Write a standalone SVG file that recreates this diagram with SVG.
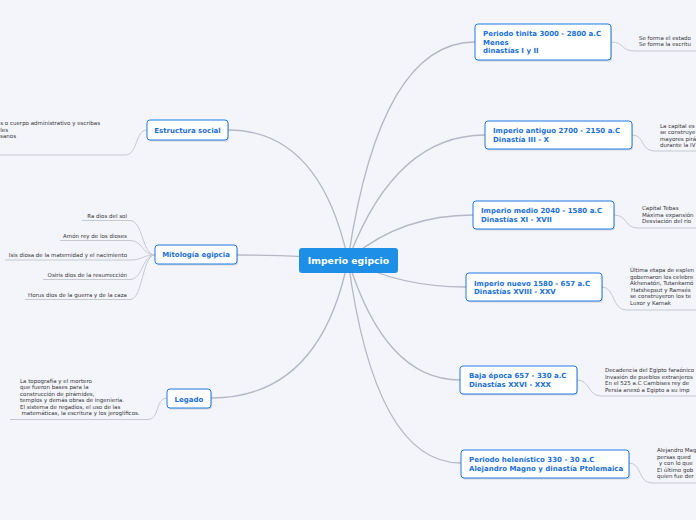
<svg xmlns="http://www.w3.org/2000/svg" width="696" height="520" viewBox="0 0 696 520">
<style>
.bg{fill:#f3f5fb}
.c{fill:none;stroke:#b5b8c3;stroke-width:1.3}
.d{fill:none;stroke:#c6c9d2;stroke-width:1}
.nb{fill:#ffffff;stroke:#1f7ae0;stroke-width:1}
.sh{fill:#000;opacity:0.12}
.nt{font-family:"DejaVu Sans",Verdana,sans-serif;font-weight:bold;font-size:7px;fill:#1a6fd8}
.ct{font-family:"DejaVu Sans",Verdana,sans-serif;font-weight:bold;font-size:9.3px;fill:#ffffff}
.dt{font-family:"DejaVu Sans",Verdana,sans-serif;font-size:5.5px;fill:#333333}
</style>
<rect class="bg" x="0" y="0" width="696" height="520"/>
<g id="connectors">
<path class="c" d="M348,260 Q380,42 475,42"/>
<path class="c" d="M348,260 Q395,135 485,135"/>
<path class="c" d="M348,260 Q400,215 473,215"/>
<path class="c" d="M348,260 Q400,287 466,287"/>
<path class="c" d="M348,260 Q385,380 460,380"/>
<path class="c" d="M348,260 Q375,463 461,463"/>
<path class="c" d="M348,260 Q320,130 228,130"/>
<path class="c" d="M348,260 Q300,255 237,255"/>
<path class="c" d="M348,260 Q320,398 211,398"/>
<path class="d" d="M611,42 C625,42 620,51 635,51 H700"/>
<path class="d" d="M632,135 C645,135 640,151 655,151 H700"/>
<path class="d" d="M614,215 C628,215 624,228 638,228 H700"/>
<path class="d" d="M602,287 C615,287 612,310 626,310 H700"/>
<path class="d" d="M577,380 C590,380 588,396 601,396 H700"/>
<path class="d" d="M629,463 C642,463 638,483 652,483 H700"/>
<path class="d" d="M147,130 C135,130 138,155 125,155 H-5"/>
<path class="d" d="M82,220.5 H130 C143,220.5 142,255 155,255"/>
<path class="d" d="M60,240.5 H130 C143,240.5 142,255 155,255"/>
<path class="d" d="M5,260 H130 C143,260 142,255 155,255"/>
<path class="d" d="M43,279.5 H130 C143,279.5 142,255 155,255"/>
<path class="d" d="M25,299.5 H130 C143,299.5 142,255 155,255"/>
<path class="d" d="M10,419.5 H148 C160,419.5 155,398 167,398"/>
</g>
<g id="center">
<rect x="299" y="248" width="99" height="25" rx="3" fill="#1e8fe6"/>
<text class="ct" x="348.5" y="264" text-anchor="middle">Imperio egipcio</text>
</g>
<g id="n-tinita">
<rect class="sh" x="476" y="25.5" width="136" height="36" rx="3"/>
<rect class="nb" x="475" y="24" width="136" height="36" rx="3"/>
<text class="nt" x="483" y="36">Periodo tinita 3000 - 2800 a.C</text>
<text class="nt" x="483" y="44.5">Menes</text>
<text class="nt" x="483" y="53">dinastías I y II</text>
</g>
<g id="d-tinita">
<text class="dt" x="639" y="39.5">Se forma el estado</text>
<text class="dt" x="639" y="46">Se forma la escritu</text>
</g>
<g id="n-antiguo">
<rect class="sh" x="486" y="122.5" width="147" height="28" rx="3"/>
<rect class="nb" x="485" y="121" width="147" height="28" rx="3"/>
<text class="nt" x="493" y="133">Imperio antiguo 2700 - 2150 a.C</text>
<text class="nt" x="493" y="142">Dinastía III - X</text>
</g>
<g id="d-antiguo">
<text class="dt" x="660" y="127.5">La capital es</text>
<text class="dt" x="660" y="134">se construye</text>
<text class="dt" x="660" y="140.5">mayores pirá</text>
<text class="dt" x="660" y="147">durante la IV</text>
</g>
<g id="n-medio">
<rect class="sh" x="474" y="202.5" width="141" height="28" rx="3"/>
<rect class="nb" x="473" y="201" width="141" height="28" rx="3"/>
<text class="nt" x="481" y="213">Imperio medio 2040 - 1580 a.C</text>
<text class="nt" x="481" y="222">Dinastías XI - XVII</text>
</g>
<g id="d-medio">
<text class="dt" x="642" y="210">Capital Tebas</text>
<text class="dt" x="642" y="216.5">Máxima expansión</text>
<text class="dt" x="642" y="223">Desviación del río</text>
</g>
<g id="n-nuevo">
<rect class="sh" x="467" y="274.5" width="136" height="28" rx="3"/>
<rect class="nb" x="466" y="273" width="136" height="28" rx="3"/>
<text class="nt" x="474" y="285.5">Imperio nuevo 1580 - 657 a.C</text>
<text class="nt" x="474" y="294">Dinastías XVIII - XXV</text>
</g>
<g id="d-nuevo">
<text class="dt" x="630" y="272">Última etapa de esplen</text>
<text class="dt" x="630" y="278.5">gobernaron los celebre</text>
<text class="dt" x="630" y="285">Akhenatón, Tutankamó</text>
<text class="dt" x="631" y="291.5">Hatshepsut y Ramsés</text>
<text class="dt" x="630" y="298">se construyeron los te</text>
<text class="dt" x="630" y="304.5">Luxor y Karnak</text>
</g>
<g id="n-baja">
<rect class="sh" x="461" y="367.5" width="117" height="28" rx="3"/>
<rect class="nb" x="460" y="366" width="117" height="28" rx="3"/>
<text class="nt" x="469" y="378">Baja época 657 - 330 a.C</text>
<text class="nt" x="469" y="387">Dinastías XXVI - XXX</text>
</g>
<g id="d-baja">
<text class="dt" x="605" y="372">Decadencia del Egipto faraónico</text>
<text class="dt" x="605" y="378.5">Invasión de pueblos extranjeros</text>
<text class="dt" x="605" y="385">En el 525 a.C Cambises rey de</text>
<text class="dt" x="605" y="391.5">Persia anexó a Egipto a su imp</text>
</g>
<g id="n-helen">
<rect class="sh" x="462" y="451.5" width="168" height="28" rx="3"/>
<rect class="nb" x="461" y="450" width="168" height="28" rx="3"/>
<text class="nt" x="469" y="461.5">Periodo helenístico 330 - 30 a.C</text>
<text class="nt" x="469" y="470.5">Alejandro Magno y dinastía Ptolemaica</text>
</g>
<g id="d-helen">
<text class="dt" x="657" y="452">Alejandro Mag</text>
<text class="dt" x="657" y="458.5">persas qued</text>
<text class="dt" x="659" y="465">y con lo que</text>
<text class="dt" x="657" y="471.5">El último gob</text>
<text class="dt" x="657" y="478">quien fue der</text>
</g>
<g id="n-estructura">
<rect class="sh" x="148" y="121.5" width="81" height="20" rx="3"/>
<rect class="nb" x="147" y="120" width="81" height="20" rx="3"/>
<text class="nt" x="187.5" y="133" text-anchor="middle">Estructura social</text>
</g>
<g id="d-estructura">
<text class="dt" x="100" y="125" text-anchor="end">s o cuerpo administrativo y escribas</text>
<text class="dt" x="8" y="131.5" text-anchor="end">les</text>
<text class="dt" x="16" y="138" text-anchor="end">sanos</text>
</g>
<g id="n-mitologia">
<rect class="sh" x="156" y="246.5" width="82" height="19" rx="3"/>
<rect class="nb" x="155" y="245" width="82" height="19" rx="3"/>
<text class="nt" x="196" y="257" text-anchor="middle">Mitología egipcia</text>
</g>
<g id="d-mitologia">
<text class="dt" x="127" y="218" text-anchor="end">Ra dios del sol</text>
<text class="dt" x="127" y="237.5" text-anchor="end">Amón rey de los dioses</text>
<text class="dt" x="127" y="257" text-anchor="end">Isis diosa de la maternidad y el nacimiento</text>
<text class="dt" x="127" y="276.5" text-anchor="end">Osiris dios de la resurrección</text>
<text class="dt" x="127" y="296.5" text-anchor="end">Horus dios de la guerra y de la caza</text>
</g>
<g id="n-legado">
<rect class="sh" x="168" y="390.5" width="44" height="19" rx="3"/>
<rect class="nb" x="167" y="389" width="44" height="19" rx="3"/>
<text class="nt" x="189" y="401.5" text-anchor="middle">Legado</text>
</g>
<g id="d-legado">
<text class="dt" x="20" y="383">La topografía y el mortero</text>
<text class="dt" x="20" y="389.4">que fueron bases para la</text>
<text class="dt" x="20" y="395.8">construcción de pirámides,</text>
<text class="dt" x="20" y="402.2">templos y demás obras de ingeniería.</text>
<text class="dt" x="20" y="408.6">El sistema de regadíos, el uso de las</text>
<text class="dt" x="21.5" y="415">matemáticas, la escritura y los jeroglíficos.</text>
</g>
</svg>
